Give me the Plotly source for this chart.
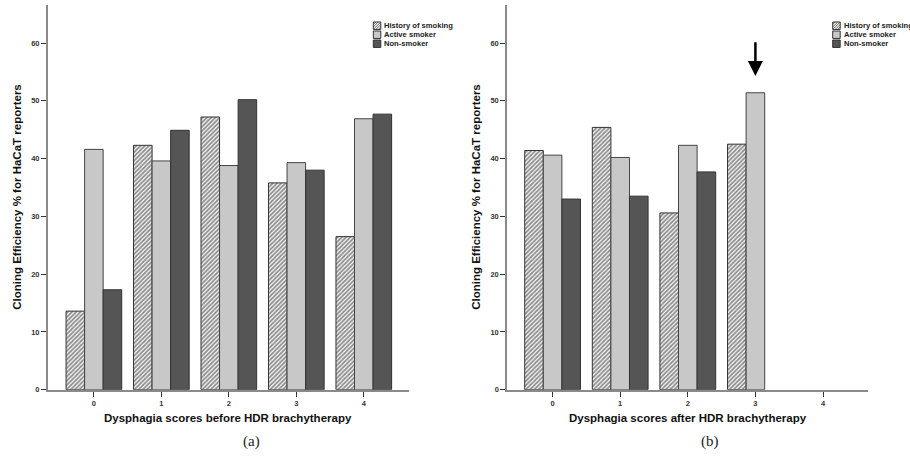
import plotly.graph_objects as go

# ---------------- data ----------------
categories = [0, 1, 2, 3, 4]
tick_labels = ["0", "1", "2", "3", "4"]
series_names = ["History of smoking", "Active smoker", "Non-smoker"]

# (a) before HDR brachytherapy
before_history = [13.6, 42.3, 47.2, 35.8, 26.5]
before_active = [41.6, 39.6, 38.8, 39.3, 46.9]
before_non = [17.3, 44.9, 50.2, 38.0, 47.7]

# (b) after HDR brachytherapy
after_history = [41.4, 45.4, 30.6, 42.5, None]
after_active = [40.6, 40.2, 42.3, 51.4, None]
after_non = [33.0, 33.5, 37.7, None, None]

y_ticks = [0, 10, 20, 30, 40, 50, 60]
arrow_category = 3
arrow_tip, arrow_tail = 54.3, 60.4

# ---------------- styling ----------------
W, H = 910, 457
FONT = "Liberation Sans, Arial, sans-serif"
HATCH_FG = "#1e1e1e"
LIGHT = "#c8c8c8"
DARK = "#555555"


def px(x):
    return x / W


def py(y):
    return 1 - y / H


fig = go.Figure()


def add_panel(xa, ya, vals):
    h, a, n = vals
    fig.add_trace(go.Bar(
        x=categories, y=h, name=series_names[0], xaxis=xa, yaxis=ya,
        marker=dict(color="white", line=dict(color="#333333", width=1),
                    pattern=dict(shape="/", fgcolor=HATCH_FG, bgcolor="#f4f4f4",
                                 size=3, solidity=0.55)),
        showlegend=False))
    fig.add_trace(go.Bar(
        x=categories, y=a, name=series_names[1], xaxis=xa, yaxis=ya,
        marker=dict(color=LIGHT, line=dict(color="#444444", width=1)),
        showlegend=False))
    fig.add_trace(go.Bar(
        x=categories, y=n, name=series_names[2], xaxis=xa, yaxis=ya,
        marker=dict(color=DARK, line=dict(color="#333333", width=1)),
        showlegend=False))


add_panel("x", "y", (before_history, before_active, before_non))
add_panel("x2", "y2", (after_history, after_active, after_non))

ydom = [py(394), py(5)]
axis_common = dict(
    showline=True, linecolor="#8a8a8a", linewidth=2,
    ticks="outside", ticklen=5, tickcolor="#333333", tickwidth=1,
    showgrid=False, zeroline=False,
    tickfont=dict(family=FONT, size=7.5, color="#333333", weight="bold"),
)

fig.update_layout(
    width=W, height=H,
    margin=dict(l=0, r=0, t=0, b=0),
    paper_bgcolor="white", plot_bgcolor="white",
    barmode="group", bargap=0.175, bargroupgap=0,
    font=dict(family=FONT),
    xaxis=dict(domain=[px(48), px(409)], range=[-0.68, 4.67],
               tickvals=categories, ticktext=tick_labels, anchor="y", **axis_common),
    yaxis=dict(domain=ydom, range=[0, 66.6], tickvals=y_ticks, anchor="x", **axis_common),
    xaxis2=dict(domain=[px(507.3), px(868.3)], range=[-0.67, 4.67],
                tickvals=categories, ticktext=tick_labels, anchor="y2", **axis_common),
    yaxis2=dict(domain=ydom, range=[0, 66.6], tickvals=y_ticks, anchor="x2", **axis_common),
)

annotations = []
title_font = dict(family=FONT, size=11.5, color="#111111", weight="bold")


def label(text, x, y, font, angle=0, xanchor="center"):
    annotations.append(dict(text=text, x=px(x), y=py(y), xref="paper", yref="paper",
                            textangle=angle, showarrow=False, font=font,
                            xanchor=xanchor, yanchor="middle"))


# y titles
for xc in (17, 476):
    label("Cloning Efficiency % for HaCaT reporters", xc, 199, title_font, angle=-90)
# x titles
label("Dysphagia scores before HDR brachytherapy", 228, 423, title_font)
label("Dysphagia scores after HDR brachytherapy", 687.5, 423, title_font)
# captions
cap_font = dict(family="Liberation Serif, DejaVu Serif, serif", size=15, color="#222222")
label("(a)", 251.5, 446, cap_font)
label("(b)", 710, 446, cap_font)
# arrow
annotations.append(dict(text="", x=arrow_category, y=arrow_tip, ax=arrow_category, ay=arrow_tail,
                        xref="x2", yref="y2", axref="x2", ayref="y2",
                        showarrow=True, arrowhead=2, arrowsize=1.2, arrowwidth=2.5,
                        arrowcolor="black"))

# custom legends
shapes = []
leg_font = dict(family=FONT, size=7.6, color="#222222", weight="bold")
swatch_colors = ["white", LIGHT, DARK]
s = 7.5
for x0 in (373.3, 832.7):
    for i, name in enumerate(series_names):
        yc = 26 + 9.1 * i
        top = yc - s / 2
        shapes.append(dict(type="rect", xref="paper", yref="paper",
                           x0=px(x0), x1=px(x0 + s), y0=py(top + s), y1=py(top),
                           fillcolor=swatch_colors[i], line=dict(color="#333333", width=1)))
        if i == 0:
            for c in [-5, -2.5, 0, 2.5, 5]:
                u0, u1 = max(0, -c), min(s, s - c)
                shapes.append(dict(type="line", xref="paper", yref="paper",
                                   x0=px(x0 + u0), y0=py(top + s - (u0 + c)),
                                   x1=px(x0 + u1), y1=py(top + s - (u1 + c)),
                                   line=dict(color="#333333", width=0.8)))
        label(name, x0 + s + 1.5, yc, leg_font, xanchor="left")

fig.update_layout(annotations=annotations, shapes=shapes)

fig.write_html("out.html", config={"displayModeBar": False},
               post_script="document.body.style.margin='0';")
